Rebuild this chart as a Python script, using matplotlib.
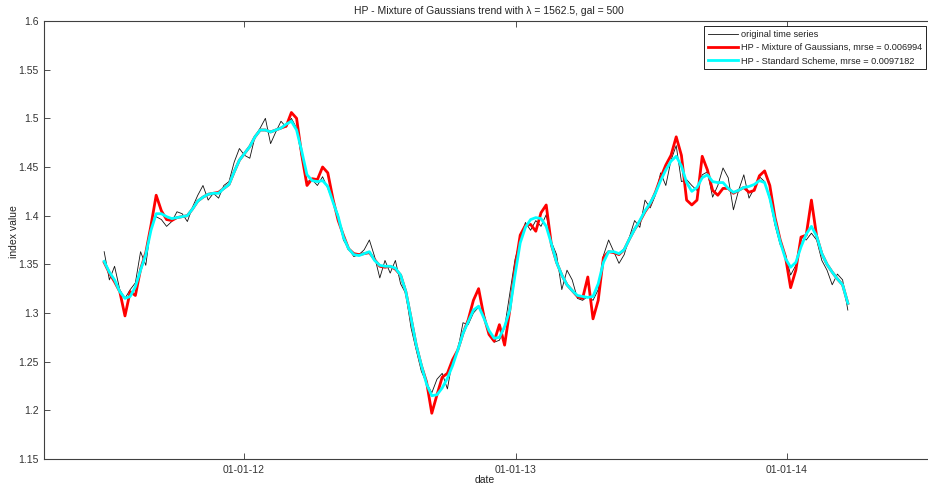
import numpy as np
import pandas as pd
import matplotlib
matplotlib.use('Agg')
import matplotlib.pyplot as plt
import matplotlib.dates as mdates
from matplotlib.ticker import FuncFormatter

plt.rcParams['font.family'] = ['Liberation Sans', 'DejaVu Sans']

# weekly observations
dates = pd.date_range('2011-06-27', periods=144, freq='7D')

series = [
    1.363, 1.334, 1.348, 1.324, 1.315, 1.324, 1.331, 1.363, 1.349, 1.389,
    1.399, 1.396, 1.389, 1.394, 1.404, 1.402, 1.394, 1.409, 1.421, 1.431,
    1.416, 1.423, 1.418, 1.431, 1.435, 1.455, 1.469, 1.462, 1.459, 1.481,
    1.490, 1.500, 1.474, 1.486, 1.497, 1.491, 1.500, 1.490, 1.459, 1.435,
    1.437, 1.431, 1.440, 1.428, 1.414, 1.401, 1.375, 1.366, 1.358, 1.360,
    1.365, 1.375, 1.358, 1.336, 1.354, 1.341, 1.354, 1.330, 1.320, 1.285,
    1.262, 1.240, 1.228, 1.218, 1.232, 1.238, 1.222, 1.252, 1.262, 1.290,
    1.288, 1.300, 1.306, 1.300, 1.278, 1.270, 1.272, 1.285, 1.320, 1.355,
    1.375, 1.393, 1.385, 1.395, 1.389, 1.401, 1.373, 1.360, 1.324, 1.344,
    1.334, 1.315, 1.313, 1.317, 1.313, 1.324, 1.359, 1.375, 1.363, 1.351,
    1.360, 1.378, 1.395, 1.388, 1.416, 1.408, 1.421, 1.444, 1.431, 1.457,
    1.472, 1.435, 1.437, 1.431, 1.426, 1.442, 1.445, 1.419, 1.431, 1.449,
    1.439, 1.406, 1.426, 1.442, 1.418, 1.428, 1.440, 1.435, 1.416, 1.390,
    1.370, 1.360, 1.339, 1.349, 1.378, 1.375, 1.382, 1.375, 1.354, 1.344,
    1.329, 1.340, 1.334, 1.303]

hp_mog = [
    1.352, 1.341, 1.332, 1.322, 1.297, 1.322, 1.318, 1.345, 1.362, 1.390,
    1.421, 1.405, 1.396, 1.395, 1.398, 1.399, 1.400, 1.407, 1.415, 1.419,
    1.422, 1.423, 1.424, 1.428, 1.432, 1.445, 1.457, 1.464, 1.471, 1.481,
    1.488, 1.488, 1.486, 1.488, 1.490, 1.492, 1.506, 1.500, 1.462, 1.431,
    1.438, 1.437, 1.450, 1.444, 1.417, 1.395, 1.380, 1.366, 1.361, 1.360,
    1.361, 1.362, 1.355, 1.348, 1.347, 1.348, 1.345, 1.339, 1.322, 1.295,
    1.267, 1.246, 1.229, 1.197, 1.216, 1.234, 1.238, 1.252, 1.262, 1.279,
    1.293, 1.313, 1.325, 1.297, 1.278, 1.271, 1.288, 1.267, 1.303, 1.346,
    1.380, 1.390, 1.391, 1.384, 1.403, 1.411, 1.370, 1.352, 1.339, 1.329,
    1.323, 1.317, 1.315, 1.337, 1.294, 1.313, 1.357, 1.363, 1.362, 1.360,
    1.365, 1.376, 1.386, 1.394, 1.404, 1.412, 1.424, 1.439, 1.452, 1.462,
    1.481, 1.462, 1.416, 1.411, 1.416, 1.461, 1.447, 1.426, 1.421, 1.428,
    1.428, 1.423, 1.426, 1.429, 1.424, 1.426, 1.441, 1.446, 1.431, 1.398,
    1.375, 1.358, 1.326, 1.344, 1.378, 1.380, 1.416, 1.379, 1.361, 1.350,
    1.342, 1.335, 1.329, 1.310]

hp_std = [
    1.353, 1.342, 1.334, 1.322, 1.315, 1.317, 1.327, 1.344, 1.360, 1.385,
    1.402, 1.402, 1.399, 1.397, 1.398, 1.399, 1.400, 1.407, 1.415, 1.419,
    1.422, 1.423, 1.423, 1.428, 1.432, 1.445, 1.457, 1.464, 1.471, 1.481,
    1.488, 1.488, 1.486, 1.488, 1.490, 1.494, 1.497, 1.488, 1.466, 1.442,
    1.436, 1.435, 1.436, 1.430, 1.414, 1.399, 1.378, 1.366, 1.360, 1.359,
    1.361, 1.363, 1.354, 1.349, 1.348, 1.348, 1.346, 1.339, 1.322, 1.295,
    1.267, 1.246, 1.227, 1.215, 1.216, 1.223, 1.233, 1.246, 1.262, 1.279,
    1.291, 1.303, 1.307, 1.295, 1.282, 1.274, 1.275, 1.286, 1.303, 1.339,
    1.372, 1.388, 1.396, 1.398, 1.397, 1.389, 1.371, 1.352, 1.339, 1.329,
    1.323, 1.318, 1.317, 1.316, 1.317, 1.330, 1.352, 1.363, 1.363, 1.361,
    1.365, 1.376, 1.386, 1.395, 1.405, 1.413, 1.423, 1.436, 1.447, 1.456,
    1.461, 1.451, 1.434, 1.425, 1.429, 1.439, 1.442, 1.435, 1.434, 1.434,
    1.428, 1.424, 1.426, 1.429, 1.430, 1.432, 1.436, 1.434, 1.418, 1.394,
    1.373, 1.356, 1.347, 1.352, 1.368, 1.381, 1.389, 1.379, 1.361, 1.350,
    1.342, 1.335, 1.329, 1.310]

lam = 1562.5
gal = 500
mrse_mog = 0.006994
mrse_std = 0.0097182

fig = plt.figure(figsize=(9.29, 4.88), dpi=100)
# the plot box runs a little past the right edge of the figure
ax = fig.add_axes([44/929, 29/488, 890/929, 438/488])

ax.plot(dates, series, color='#111111', lw=0.6, label='original time series')
ax.plot(dates, hp_mog, color='red', lw=2.0,
        label='HP - Mixture of Gaussians, mrse = %g' % mrse_mog)
ax.plot(dates, hp_std, color='cyan', lw=2.0,
        label='HP - Standard Scheme, mrse = %g' % mrse_std)

ax.set_xlim(pd.Timestamp('2011-04-07'), pd.Timestamp('2014-07-18'))
ax.set_ylim(1.15, 1.6)
ax.set_yticks(np.arange(1.15, 1.601, 0.05))
ax.yaxis.set_major_formatter(FuncFormatter(lambda v, p: '%g' % round(v, 2)))
ax.xaxis.set_major_locator(mdates.YearLocator())
ax.xaxis.set_major_formatter(mdates.DateFormatter('%m-%d-%y'))

ax.tick_params(direction='in', top=True, right=True, length=4, width=0.6,
               labelsize=7.5, colors='#333333', pad=4)
for s in ax.spines.values():
    s.set_linewidth(0.8)
    s.set_color('#404040')

ax.set_title('HP - Mixture of Gaussians trend with λ = %g, gal = %d' % (lam, gal),
             fontsize=7.5, color='#222222', pad=5)
ax.set_xlabel('date', fontsize=7.5, color='#222222')
ax.xaxis.set_label_coords(441/890, -16/438)
ax.set_ylabel('index value', fontsize=7.5, color='#222222')
ax.yaxis.set_label_coords(-25/890, 0.52)

leg = ax.legend(loc='upper right', bbox_to_anchor=(882.5/890, 1 - 5/438),
                fontsize=6.6, fancybox=False, framealpha=1, edgecolor='k',
                borderaxespad=0, handlelength=3.3, handletextpad=0.35,
                borderpad=0.45, labelspacing=0.45)
leg.get_frame().set_linewidth(0.6)
for t in leg.get_texts():
    t.set_color('#222222')

fig.savefig('out.png', dpi=100)
